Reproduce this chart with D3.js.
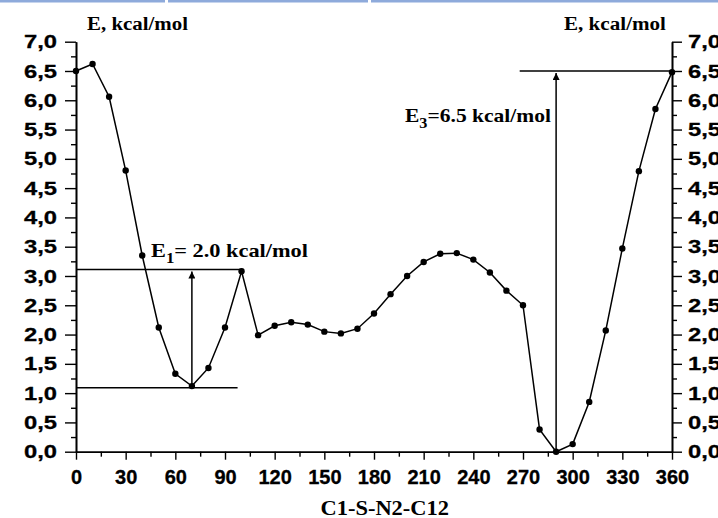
<!DOCTYPE html>
<html>
<head>
<meta charset="utf-8">
<script src="https://cdn.jsdelivr.net/npm/d3@7"></script>
<style>
    body { margin: 0; background: #fff; }
    svg { display: block; }
    .tick text { font-family: "Liberation Sans", Arial, sans-serif; font-weight: bold; fill: #000; stroke: #000; stroke-width: 0.3; }
    .serif { font-family: "Liberation Serif", "Times New Roman", serif; font-weight: bold; fill: #000; }
</style>
</head>
<body>
<div id="chart"></div>
<script>
/*
 * Torsion angle C1-S-N2-C12, degrees.
 */
var angles = [0, 10, 20, 30, 40, 50, 60, 70, 80, 90, 100, 110, 120, 130, 140, 150, 160, 170, 180,
    190, 200, 210, 220, 230, 240, 250, 260, 270, 280, 290, 300, 310, 320, 330, 340, 350, 360];
/*
 * Relative energy, kcal/mol.
 */
var energies = [6.50, 6.62, 6.06, 4.80, 3.35, 2.12, 1.33, 1.12, 1.43, 2.12, 3.08, 1.99, 2.15, 2.21,
    2.17, 2.05, 2.02, 2.10, 2.36, 2.69, 3.00, 3.24, 3.38, 3.39, 3.28, 3.06, 2.75, 2.50, 0.38, 0.00,
    0.13, 0.85, 2.07, 3.47, 4.79, 5.85, 6.48];
/*
 * Tick values.
 */
var xTicks = [0, 30, 60, 90, 120, 150, 180, 210, 240, 270, 300, 330, 360];
var yTicks = [0, 0.5, 1, 1.5, 2, 2.5, 3, 3.5, 4, 4.5, 5, 5.5, 6, 6.5, 7];
/*
 * Barrier guides: [x1, x2, y] for levels, [x, yFrom, yTo] for arrows.
 */
var levelLines = [[0, 101, 3.11], [0, 97.6, 1.09], [268, 360, 6.5]];
var arrows = [[70, 1.09, 3.11], [290, 0, 6.5]];

var width = 718,
    height = 518;

var x = d3.scaleLinear().domain([0, 360]).range([76, 672]);
var y = d3.scaleLinear().domain([0, 7]).range([451.7, 41.7]);

var svg = d3.select('#chart').append('svg')
    .attr('width', width)
    .attr('height', height);

/*
 * Page strip on top.
 */
[[0, 165], [168, 368], [371, 718]].forEach(function(s) {
    svg.append('rect')
        .attr('x', s[0]).attr('y', 0)
        .attr('width', s[1] - s[0]).attr('height', 2.5)
        .attr('fill', '#8eaadb');
});

svg.append('defs').append('marker')
    .attr('id', 'head')
    .attr('viewBox', '0 0 10 10')
    .attr('refX', 10).attr('refY', 5)
    .attr('markerWidth', 13).attr('markerHeight', 7)
    .attr('markerUnits', 'userSpaceOnUse')
    .attr('orient', 'auto')
    .append('path')
    .attr('d', 'M0,0 L10,5 L0,10 Z')
    .attr('fill', '#000');

var fmt = function(d) { return d3.format('.1f')(d).replace('.', ','); };

function minor(values, step) {
    var out = [];
    values.slice(0, -1).forEach(function(v) { out.push(v + step); });
    return out;
}

function styleAxis(g) {
    g.select('.domain').attr('stroke', '#000').attr('stroke-width', 1.6);
    g.selectAll('.tick line').attr('stroke', '#000').attr('stroke-width', 1.4);
}

/*
 * Axes.
 */
var gx = svg.append('g')
    .attr('transform', 'translate(0,' + y(0) + ')')
    .call(d3.axisBottom(x).tickValues(xTicks).tickSize(8).tickSizeOuter(0).tickPadding(10))
    .call(styleAxis);
gx.selectAll('.tick text').attr('font-size', 20);
svg.append('g')
    .attr('transform', 'translate(0,' + y(0) + ')')
    .call(d3.axisBottom(x).tickValues(minor(xTicks, 15)).tickSize(5).tickSizeOuter(0).tickFormat(''))
    .call(styleAxis);

var gl = svg.append('g')
    .attr('transform', 'translate(' + x(0) + ',0)')
    .call(d3.axisLeft(y).tickValues(yTicks).tickFormat(fmt).tickSize(11).tickSizeOuter(0).tickPadding(8))
    .call(styleAxis);
svg.append('g')
    .attr('transform', 'translate(' + x(0) + ',0)')
    .call(d3.axisLeft(y).tickValues(minor(yTicks, 0.25)).tickSize(5).tickSizeOuter(0).tickFormat(''))
    .call(styleAxis);

var gr = svg.append('g')
    .attr('transform', 'translate(' + x(360) + ',0)')
    .call(d3.axisRight(y).tickValues(yTicks).tickFormat(fmt).tickSize(10).tickSizeOuter(0).tickPadding(6))
    .call(styleAxis);
svg.append('g')
    .attr('transform', 'translate(' + x(360) + ',0)')
    .call(d3.axisRight(y).tickValues(minor(yTicks, 0.25)).tickSize(5).tickSizeOuter(0).tickFormat(''))
    .call(styleAxis);

[gl, gr].forEach(function(g) {
    g.selectAll('.tick text')
        .attr('font-size', 19)
        .attr('textLength', 33)
        .attr('lengthAdjust', 'spacingAndGlyphs');
});

/*
 * Guides.
 */
svg.selectAll('.level').data(levelLines).enter().append('line')
    .attr('class', 'level')
    .attr('x1', d => x(d[0])).attr('x2', d => x(d[1]))
    .attr('y1', d => y(d[2])).attr('y2', d => y(d[2]))
    .attr('stroke', '#000').attr('stroke-width', 1.5);

svg.selectAll('.arrow').data(arrows).enter().append('line')
    .attr('class', 'arrow')
    .attr('x1', d => x(d[0])).attr('x2', d => x(d[0]))
    .attr('y1', d => y(d[1])).attr('y2', d => y(d[2]) + 2)
    .attr('stroke', '#000').attr('stroke-width', 1.5)
    .attr('marker-end', 'url(#head)');

/*
 * Energy profile.
 */
var points = angles.map((a, i) => ({ x: a, y: energies[i] }));

svg.append('path')
    .datum(points)
    .attr('fill', 'none')
    .attr('stroke', '#000')
    .attr('stroke-width', 1.5)
    .attr('d', d3.line().x(d => x(d.x)).y(d => y(d.y)));

svg.selectAll('.dot').data(points).enter().append('circle')
    .attr('class', 'dot')
    .attr('cx', d => x(d.x)).attr('cy', d => y(d.y))
    .attr('r', 3.2)
    .attr('fill', '#000');

/*
 * Titles and labels.
 */
function label(tx, ty, len, size, parts) {
    var t = svg.append('text')
        .attr('class', 'serif')
        .attr('x', tx).attr('y', ty)
        .attr('font-size', size)
        .attr('textLength', len)
        .attr('lengthAdjust', 'spacingAndGlyphs');
    parts.forEach(function(p) {
        var s = t.append('tspan').text(p[0]);
        if (p[1]) s.attr('dy', p[1]).attr('font-size', p[1] > 0 ? size * 0.75 : size);
    });
    return t;
}

label(87, 29.5, 101, 18, [['E, kcal/mol']]);
label(564, 29.5, 102, 18, [['E, kcal/mol']]);
label(320.5, 514.5, 128.5, 21, [['C1-S-N2-C12']]);
label(151, 256.7, 157, 19, [['E'], ['1', 6], ['= 2.0 kcal/mol', -6]]);
label(405, 121.7, 146, 19, [['E'], ['3', 6], ['=6.5 kcal/mol', -6]]);
</script>
</body>
</html>
